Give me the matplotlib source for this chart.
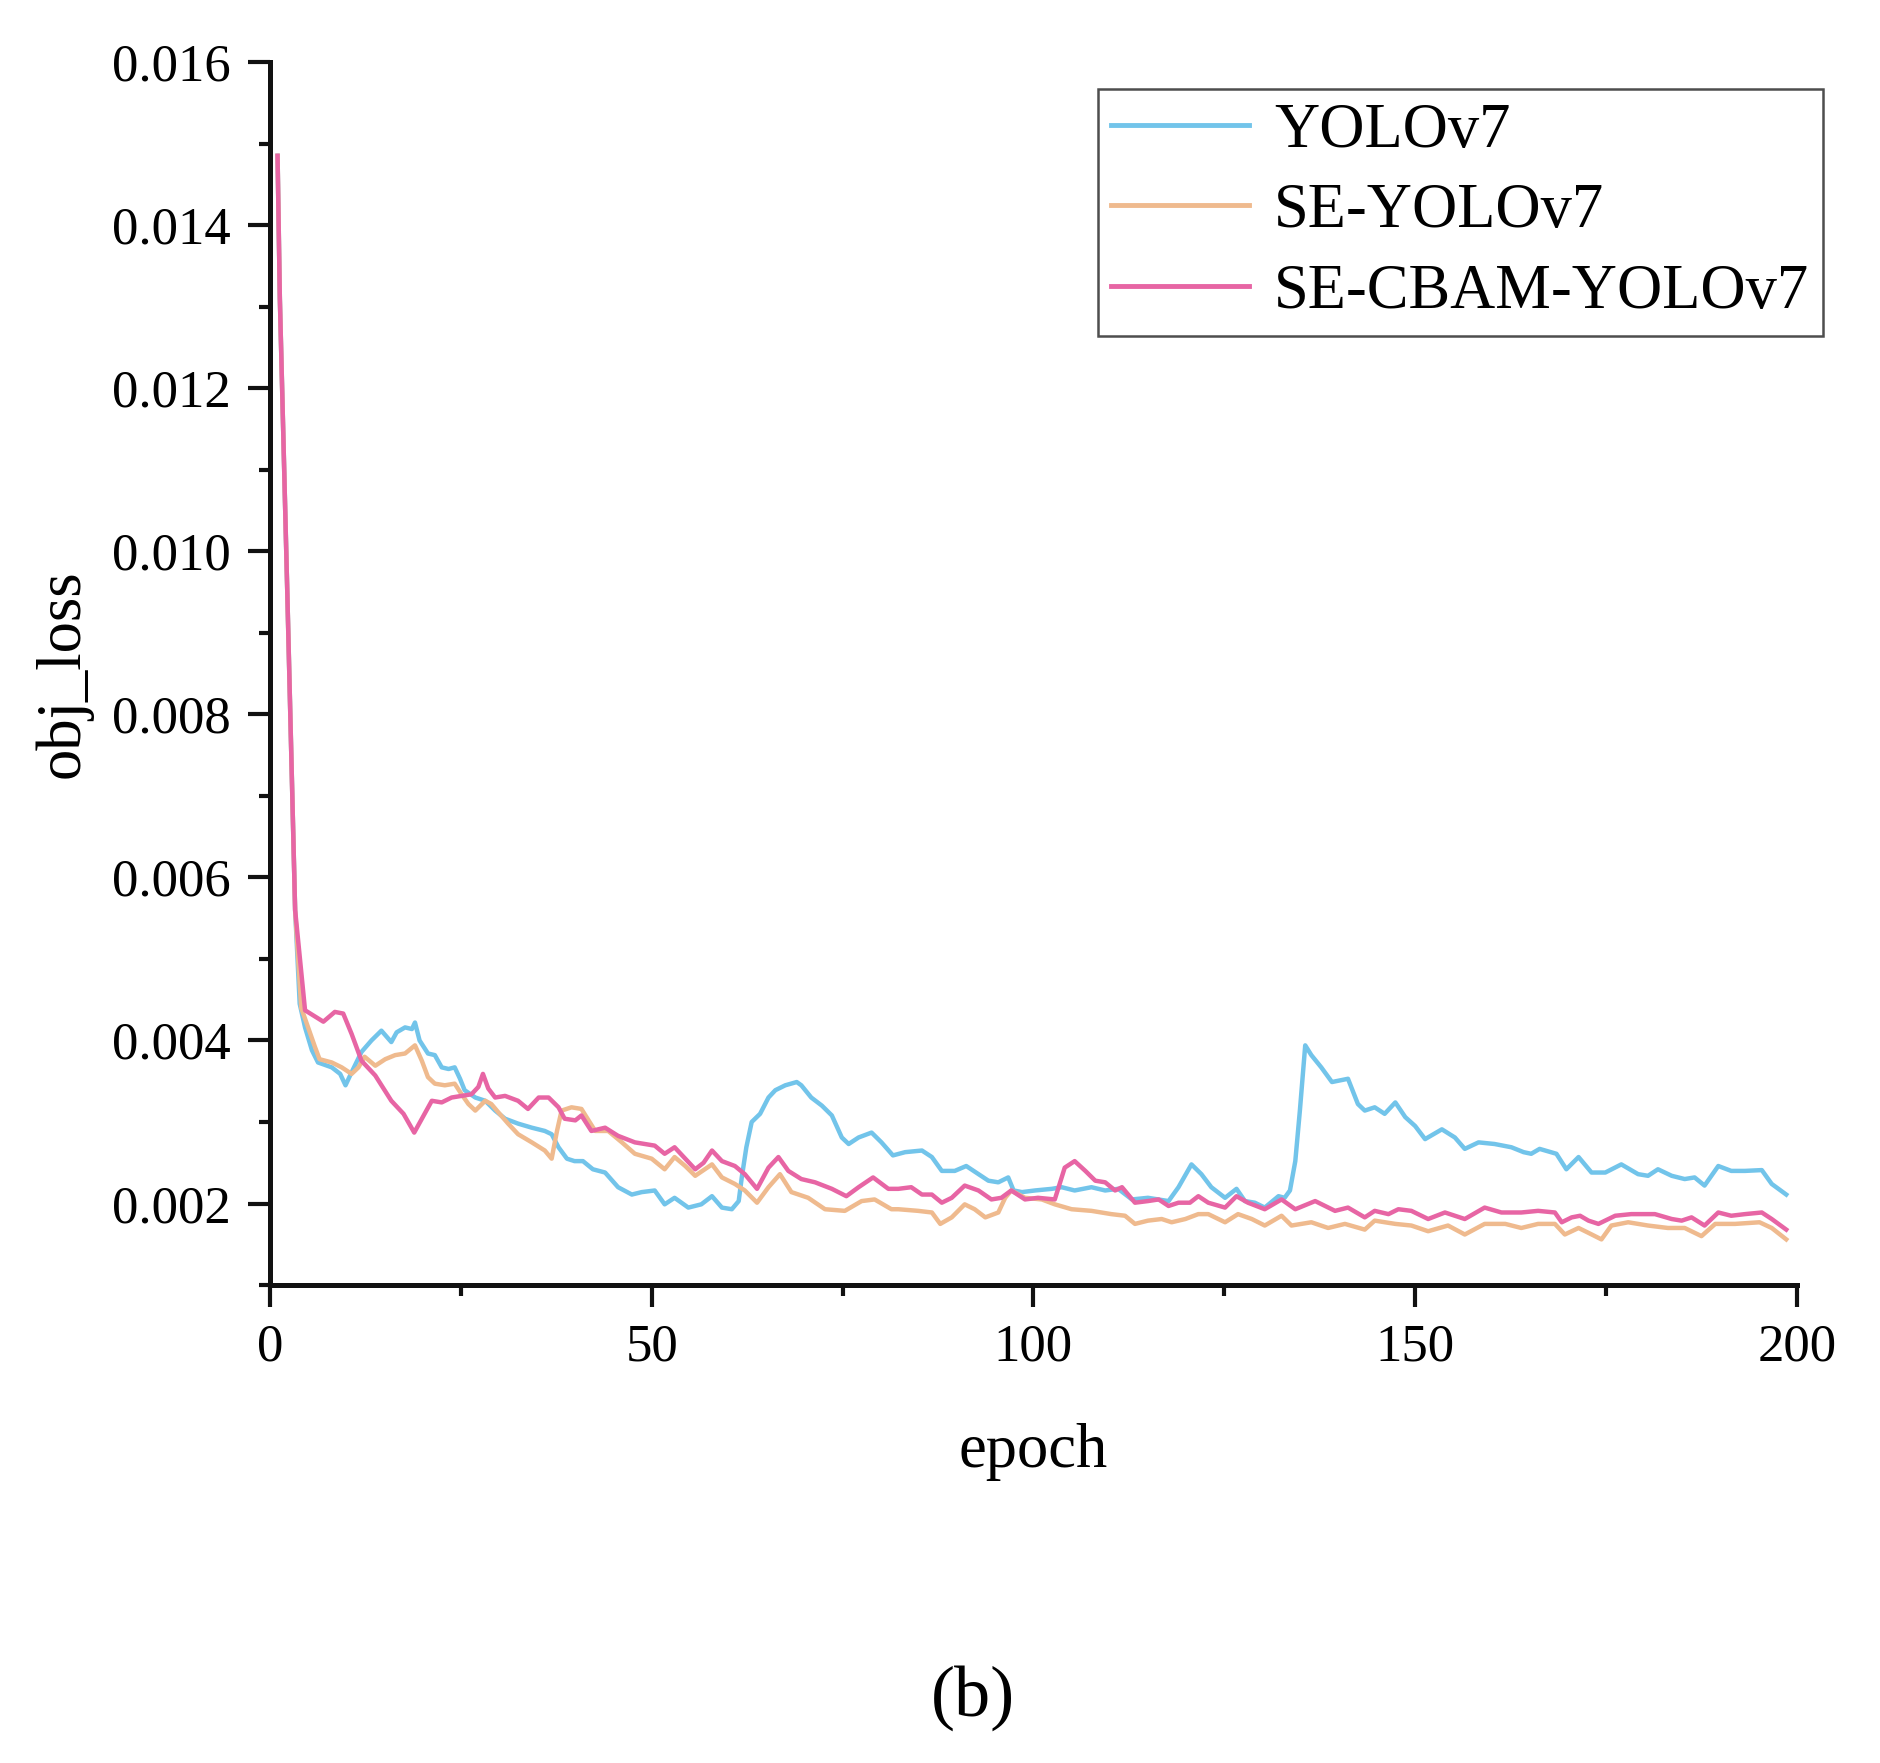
import matplotlib
matplotlib.use("Agg")
import matplotlib.pyplot as plt
from matplotlib.ticker import MultipleLocator, FormatStrFormatter

plt.rcParams['font.family'] = ['Liberation Serif', 'DejaVu Serif']

# traced vertices (epoch, obj_loss in units of 1e-3)
yolo_ep = [1.0, 1.3, 2.3, 3.3, 3.9, 4.6, 5.5, 6.3, 8.1, 9.2, 9.9, 10.7, 12.0, 13.3, 14.6, 15.9, 16.6,
           17.7, 18.6, 19.0, 19.6, 20.7, 21.6, 22.5, 23.4, 24.2, 24.9, 25.5, 26.9, 28.2, 29.5,
           30.8, 32.5, 34.3, 36.0, 36.9, 37.8, 38.9, 39.9, 41.0, 42.3, 43.9, 45.6, 47.4, 48.7,
           50.4, 51.7, 53.0, 54.8, 56.5, 57.9, 59.2, 60.5, 61.4, 61.8, 62.4, 63.1, 64.2, 65.3,
           66.2, 67.5, 69.0, 69.6, 70.9, 72.3, 73.6, 74.9, 75.8, 77.1, 78.8, 80.1, 81.6, 83.2,
           85.4, 86.7, 88.0, 89.7, 91.2, 92.8, 94.1, 95.4, 96.7, 97.4, 98.5, 100.2, 102.4,
           103.7, 105.4, 107.6, 109.4, 111.1, 112.9, 115.0, 117.7, 119.0, 120.7, 122.0, 123.3,
           125.1, 126.6, 127.7, 129.0, 130.3, 132.1, 132.9, 133.6, 134.3, 134.9, 135.6, 136.4,
           137.7, 139.1, 141.2, 142.5, 143.4, 144.7, 146.0, 147.4, 148.7, 150.0, 151.3, 153.5,
           155.2, 156.5, 158.3, 160.4, 162.6, 164.2, 165.2, 166.3, 168.5, 169.8, 171.4, 173.1,
           174.9, 177.0, 179.2, 180.5, 181.8, 183.6, 185.3, 186.6, 187.9, 189.7, 191.4, 193.2,
           195.4, 196.7, 198.6]
yolo_loss = [14.85, 13.1, 9.4, 5.6, 4.45, 4.16, 3.88, 3.73, 3.67, 3.59, 3.45, 3.61, 3.86, 4.0,
             4.12, 3.98, 4.1, 4.16, 4.14, 4.22, 4.0, 3.84, 3.82, 3.67, 3.65, 3.67, 3.53, 3.39,
             3.3, 3.26, 3.14, 3.04, 2.98, 2.93, 2.89, 2.85, 2.69, 2.55, 2.52, 2.52, 2.42, 2.38,
             2.2, 2.11, 2.14, 2.16, 1.99, 2.07, 1.95, 1.99, 2.09, 1.95, 1.93, 2.03, 2.32, 2.69,
             3.0, 3.1, 3.3, 3.39, 3.45, 3.49, 3.45, 3.3, 3.2, 3.08, 2.81, 2.73, 2.81, 2.87, 2.75,
             2.59, 2.63, 2.65, 2.57, 2.4, 2.4, 2.46, 2.36, 2.28, 2.26, 2.32, 2.16, 2.14, 2.16,
             2.18, 2.2, 2.16, 2.2, 2.16, 2.18, 2.05, 2.07, 2.03, 2.2, 2.48, 2.36, 2.2, 2.07,
             2.18, 2.03, 2.01, 1.95, 2.09, 2.07, 2.16, 2.52, 3.14, 3.94, 3.82, 3.67, 3.49, 3.53,
             3.22, 3.14, 3.18, 3.1, 3.24, 3.06, 2.95, 2.79, 2.91, 2.81, 2.67, 2.75, 2.73, 2.69,
             2.63, 2.61, 2.67, 2.61, 2.42, 2.57, 2.38, 2.38, 2.48, 2.36, 2.34, 2.42, 2.34, 2.3,
             2.32, 2.22, 2.46, 2.4, 2.4, 2.41, 2.24, 2.11]

se_ep = [1.0, 1.3, 2.3, 3.3, 4.1, 5.0, 5.9, 6.5, 8.1, 9.4, 10.7, 11.6, 12.4, 13.8, 15.1, 16.4, 17.7,
         19.0, 19.9, 20.7, 21.6, 22.9, 24.2, 25.1, 26.0, 26.9, 28.2, 29.0, 29.9, 31.2, 32.5,
         34.3, 36.0, 36.9, 37.6, 38.2, 39.5, 40.8, 42.6, 44.3, 46.1, 47.8, 50.0, 51.7, 53.0,
         54.4, 55.7, 57.9, 59.2, 60.9, 62.2, 63.8, 65.3, 66.8, 68.3, 70.5, 72.7, 75.3, 77.5,
         79.2, 81.4, 82.3, 84.9, 86.7, 87.8, 89.3, 91.0, 92.3, 93.7, 95.4, 96.3, 97.1, 98.9,
         101.1, 102.8, 105.0, 107.6, 110.2, 112.0, 113.3, 115.0, 116.8, 118.1, 119.9, 121.6,
         122.9, 125.1, 126.8, 128.6, 130.3, 132.5, 133.8, 136.4, 138.6, 140.8, 143.4, 144.7,
         147.4, 149.5, 151.7, 154.3, 156.5, 159.1, 161.8, 163.9, 166.1, 168.3, 169.6, 171.4,
         172.7, 174.4, 175.7, 177.9, 180.5, 183.1, 185.3, 187.5, 189.3, 191.9, 195.1, 196.7,
         198.6]
se_loss = [14.85, 13.1, 9.4, 5.6, 4.4, 4.16, 3.92, 3.77, 3.73, 3.67, 3.59, 3.67, 3.8, 3.69,
           3.77, 3.82, 3.84, 3.94, 3.75, 3.55, 3.47, 3.45, 3.47, 3.34, 3.22, 3.14, 3.26, 3.22,
           3.12, 2.98, 2.85, 2.75, 2.65, 2.55, 2.89, 3.14, 3.18, 3.16, 2.89, 2.89, 2.75, 2.61,
           2.55, 2.42, 2.57, 2.46, 2.34, 2.48, 2.32, 2.24, 2.16, 2.01, 2.2, 2.36, 2.14, 2.07,
           1.93, 1.91, 2.03, 2.05, 1.93, 1.93, 1.91, 1.89, 1.75, 1.83, 1.99, 1.93, 1.83, 1.89,
           2.07, 2.16, 2.07, 2.05, 1.99, 1.93, 1.91, 1.87, 1.85, 1.75, 1.79, 1.81, 1.77, 1.81,
           1.87, 1.87, 1.77, 1.87, 1.81, 1.73, 1.85, 1.73, 1.77, 1.7, 1.75, 1.68, 1.79, 1.75,
           1.73, 1.66, 1.73, 1.62, 1.75, 1.75, 1.7, 1.75, 1.75, 1.62, 1.7, 1.64, 1.56, 1.73,
           1.77, 1.73, 1.7, 1.7, 1.6, 1.75, 1.75, 1.77, 1.7, 1.56]

cbam_ep = [1.0, 1.3, 2.3, 3.3, 4.6, 7.0, 8.5, 9.6, 10.7, 12.0, 13.8, 15.9, 17.5, 18.9, 21.2, 22.5,
           23.8, 25.1, 26.4, 27.3, 27.9, 28.6, 29.5, 30.8, 32.5, 33.8, 35.2, 36.5, 37.8, 38.6,
           40.0, 40.8, 42.1, 43.9, 45.6, 47.8, 50.4, 51.7, 53.0, 54.4, 55.7, 56.8, 57.9, 59.2,
           60.9, 62.2, 63.8, 65.3, 66.6, 67.9, 69.6, 71.4, 73.6, 75.5, 77.1, 79.0, 81.0, 82.3,
           84.0, 85.4, 86.7, 88.0, 89.3, 91.0, 92.8, 94.5, 95.8, 97.1, 98.9, 100.6, 102.8,
           104.1, 105.4, 106.8, 108.1, 109.4, 110.7, 111.6, 113.3, 115.0, 116.4, 117.7, 119.0,
           120.5, 121.6, 122.9, 125.1, 126.6, 128.1, 130.3, 132.5, 134.3, 136.9, 139.5, 141.2,
           143.4, 144.7, 146.5, 147.8, 149.5, 151.7, 153.9, 156.5, 159.1, 161.3, 163.9, 166.1,
           168.3, 169.2, 170.5, 171.6, 172.7, 174.0, 176.2, 178.3, 181.4, 183.6, 184.9, 186.2,
           187.9, 189.7, 191.4, 193.2, 195.4, 196.7, 198.6]
cbam_loss = [14.85, 13.1, 9.4, 5.6, 4.37, 4.23, 4.35, 4.33, 4.08, 3.75, 3.57, 3.26, 3.1, 2.87,
             3.26, 3.24, 3.3, 3.32, 3.34, 3.43, 3.59, 3.41, 3.3, 3.32, 3.26, 3.16, 3.3, 3.3,
             3.18, 3.04, 3.02, 3.08, 2.89, 2.93, 2.83, 2.75, 2.71, 2.61, 2.69, 2.55, 2.42, 2.5,
             2.65, 2.52, 2.46, 2.36, 2.18, 2.44, 2.57, 2.4, 2.3, 2.26, 2.18, 2.09, 2.2, 2.32,
             2.18, 2.18, 2.2, 2.11, 2.11, 2.01, 2.07, 2.22, 2.16, 2.05, 2.07, 2.16, 2.05, 2.07,
             2.05, 2.44, 2.52, 2.4, 2.28, 2.26, 2.16, 2.2, 2.01, 2.03, 2.05, 1.97, 2.01, 2.01,
             2.09, 2.01, 1.95, 2.09, 2.01, 1.93, 2.05, 1.93, 2.03, 1.91, 1.95, 1.83, 1.91, 1.87,
             1.93, 1.91, 1.81, 1.89, 1.81, 1.95, 1.89, 1.89, 1.91, 1.89, 1.77, 1.83, 1.85, 1.79,
             1.75, 1.85, 1.87, 1.87, 1.81, 1.79, 1.83, 1.73, 1.89, 1.85, 1.87, 1.89, 1.81, 1.68]

labels = ['YOLOv7', 'SE-YOLOv7', 'SE-CBAM-YOLOv7']
colors = ['#72C4EA', '#EFBA8E', '#E765A4']

fig = plt.figure(figsize=(18.81, 17.63), dpi=100)
ax = fig.add_axes([0.1435, 0.2711, 0.8118, 0.6937])

series = [(yolo_ep, yolo_loss), (se_ep, se_loss), (cbam_ep, cbam_loss)]
for (ep, loss), lab, col in zip(series, labels, colors):
    ax.plot(ep, [v * 1e-3 for v in loss], color=col, lw=3.2, label=lab)

ax.set_xlim(0, 200)
ax.set_ylim(0.001, 0.016)
ax.xaxis.set_major_locator(MultipleLocator(50))
ax.xaxis.set_minor_locator(MultipleLocator(25))
ax.yaxis.set_major_locator(MultipleLocator(0.002))
ax.yaxis.set_minor_locator(MultipleLocator(0.001))
ax.yaxis.set_major_formatter(FormatStrFormatter('%.3f'))
ax.set_yticks([0.002, 0.004, 0.006, 0.008, 0.010, 0.012, 0.014, 0.016])

for s in ['top', 'right']:
    ax.spines[s].set_visible(False)
for s in ['left', 'bottom']:
    ax.spines[s].set_linewidth(3.6)
    ax.spines[s].set_color('#111111')

ax.tick_params(which='major', direction='out', length=16, width=3, pad=12,
               labelsize=38, color='#111111')
ax.tick_params(which='minor', direction='out', length=8, width=3, color='#111111')

ax.set_xlabel('epoch', fontsize=45, labelpad=37)
ax.set_ylabel('obj_loss', fontsize=45, labelpad=14)

leg = ax.legend(loc='upper right', bbox_to_anchor=(0.969, 0.9495),
                bbox_transform=fig.transFigure, fontsize=45, frameon=True,
                fancybox=False, edgecolor='#222222', handlelength=2.2,
                handletextpad=0.4, labelspacing=0.36, borderpad=0.22,
                borderaxespad=0)
leg.get_frame().set_linewidth(1.8)
for h in leg.get_lines():
    h.set_linewidth(3.5)

fig.text(0.517, 0.037, '(b)', fontsize=52, ha='center', va='center')

fig.savefig('out.png', dpi=100, facecolor='white')
